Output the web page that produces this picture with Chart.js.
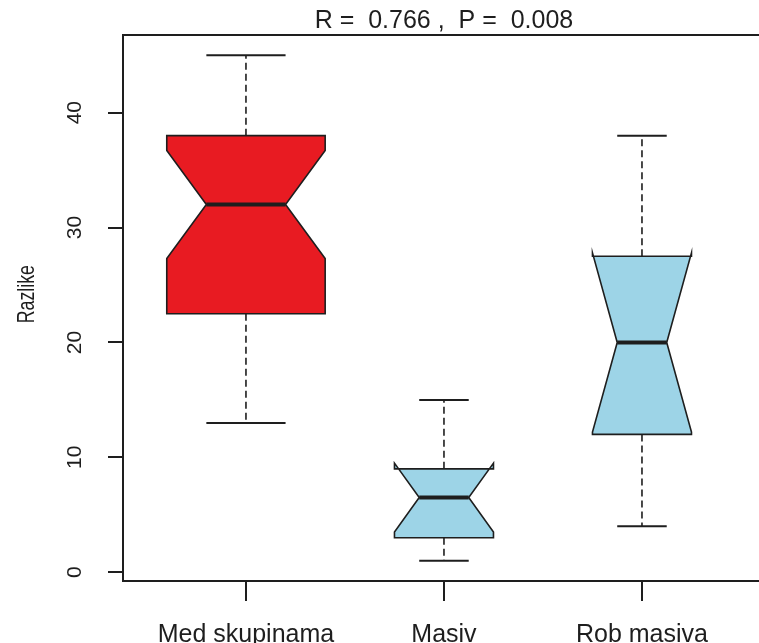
<!DOCTYPE html>
<html>
<head>
<meta charset="utf-8">
<script src="https://cdn.jsdelivr.net/npm/chart.js@4.4.1/dist/chart.umd.min.js"></script>
<style>
  html, body { margin: 0; padding: 0; background: #fff; overflow: hidden; }
  #wrap { width: 759px; height: 643px; position: relative; }
</style>
</head>
<body>
<div id="wrap"><canvas id="chart"></canvas></div>
<script>
// Box statistics per group
const labels = ['Med skupinama', 'Masiv', 'Rob masiva'];
const whiskerLow = [13, 1, 4];
const q1 = [22.5, 3, 12];
const median = [32, 6.5, 20];
const q3 = [38, 9, 27.5];
const whiskerHigh = [45, 15, 38];
const notchLow = [27.3, 3.5, 12.2];
const notchHigh = [36.7, 9.5, 27.8];
const yTicks = [0, 10, 20, 30, 40];
const titleText = 'R =  0.766 ,  P =  0.008';
const yTitle = 'Razlike';

const FONT = "'Liberation Sans', Arial, sans-serif";
const INK = '#1e1e1e';

// Look of the boxes (R-like notched boxplot)
const boxStyle = {
  fill: ['#e81b22', '#9dd4e7', '#9dd4e7'],
  width: [0.8, 0.5, 0.5],
  notchFrac: 0.5,
  stapleFrac: 0.5
};

const notchedBoxes = {
  id: 'notchedBoxes',
  beforeDatasetsDraw(chart) {
    const { ctx, scales: { x, y } } = chart;
    const px = v => x.getPixelForValue(v);
    const py = v => y.getPixelForValue(v);

    ctx.save();
    labels.forEach((_, i) => {
      const c = i + 1;
      const hw = boxStyle.width[i] / 2;
      const xm = px(c);
      const xl = px(c - hw), xr = px(c + hw);
      const nl = px(c - hw * boxStyle.notchFrac), nr = px(c + hw * boxStyle.notchFrac);
      const sl = px(c - hw * boxStyle.stapleFrac), sr = px(c + hw * boxStyle.stapleFrac);

      // whiskers
      ctx.strokeStyle = INK;
      ctx.lineWidth = 1.6;
      ctx.setLineDash([7, 4]);
      ctx.beginPath();
      ctx.moveTo(xm, py(q3[i]));
      ctx.lineTo(xm, py(whiskerHigh[i]));
      ctx.moveTo(xm, py(q1[i]));
      ctx.lineTo(xm, py(whiskerLow[i]));
      ctx.stroke();
      ctx.setLineDash([]);

      // staples
      ctx.lineWidth = 2;
      ctx.beginPath();
      ctx.moveTo(sl, py(whiskerHigh[i]));
      ctx.lineTo(sr, py(whiskerHigh[i]));
      ctx.moveTo(sl, py(whiskerLow[i]));
      ctx.lineTo(sr, py(whiskerLow[i]));
      ctx.stroke();

      // notched box
      const pts = [
        [xl, q1[i]], [xr, q1[i]], [xr, notchLow[i]], [nr, median[i]],
        [xr, notchHigh[i]], [xr, q3[i]], [xl, q3[i]], [xl, notchHigh[i]],
        [nl, median[i]], [xl, notchLow[i]]
      ];
      ctx.beginPath();
      pts.forEach(([px0, v], k) => {
        if (k === 0) ctx.moveTo(px0, py(v));
        else ctx.lineTo(px0, py(v));
      });
      ctx.closePath();
      ctx.fillStyle = boxStyle.fill[i];
      ctx.fill();
      ctx.lineWidth = 1.6;
      ctx.stroke();

      // median
      ctx.lineWidth = 4;
      ctx.beginPath();
      ctx.moveTo(nl, py(median[i]));
      ctx.lineTo(nr, py(median[i]));
      ctx.stroke();
    });
    ctx.restore();
  },
  afterDraw(chart) {
    const { ctx, chartArea: a, scales: { x, y } } = chart;
    ctx.save();

    // frame (right side runs off the canvas)
    ctx.strokeStyle = INK;
    ctx.lineWidth = 2;
    ctx.strokeRect(a.left, a.top, a.right - a.left + 20, a.bottom - a.top);

    // rotated y tick labels
    ctx.fillStyle = INK;
    ctx.font = '21px ' + FONT;
    ctx.textAlign = 'center';
    ctx.textBaseline = 'alphabetic';
    yTicks.forEach(v => {
      ctx.save();
      ctx.translate(81, y.getPixelForValue(v));
      ctx.rotate(-Math.PI / 2);
      ctx.fillText(String(v), 0, 0);
      ctx.restore();
    });

    // y axis title, a bit condensed along its length
    ctx.save();
    ctx.font = '24px ' + FONT;
    ctx.translate(34, y.getPixelForValue(24.2));
    ctx.rotate(-Math.PI / 2);
    ctx.scale(0.74, 1);
    ctx.fillText(yTitle, 0, 0);
    ctx.restore();

    // title over the plot
    ctx.font = '25px ' + FONT;
    ctx.fillText(titleText, x.getPixelForValue(2), 28);
    ctx.restore();
  }
};

new Chart(document.getElementById('chart'), {
  type: 'scatter',
  data: {
    datasets: [{
      data: median.map((m, i) => ({ x: i + 1, y: m })),
      pointRadius: 0
    }]
  },
  options: {
    responsive: true,
    maintainAspectRatio: false,
    animation: false,
    layout: { padding: { top: 35, right: 0, left: 0, bottom: 0 } },
    plugins: {
      legend: { display: false },
      tooltip: { enabled: false }
    },
    scales: {
      x: {
        type: 'linear',
        min: 0.379,
        max: 3.591,
        afterBuildTicks: s => { s.ticks = labels.map((_, i) => ({ value: i + 1 })); },
        afterFit: s => { s.height = 62; },
        ticks: {
          callback: v => labels[v - 1],
          font: { family: FONT, size: 25 },
          color: INK,
          padding: 19,
          maxRotation: 0,
          autoSkip: false
        },
        grid: { drawOnChartArea: false, tickLength: 20, color: INK, lineWidth: 2 },
        border: { display: false }
      },
      y: {
        type: 'linear',
        min: -0.76,
        max: 46.76,
        afterBuildTicks: s => { s.ticks = yTicks.map(v => ({ value: v })); },
        afterFit: s => { s.width = 123; },
        ticks: { display: false },
        grid: { drawOnChartArea: false, tickLength: 15, color: INK, lineWidth: 2 },
        border: { display: false }
      }
    }
  },
  plugins: [notchedBoxes]
});
</script>
</body>
</html>
